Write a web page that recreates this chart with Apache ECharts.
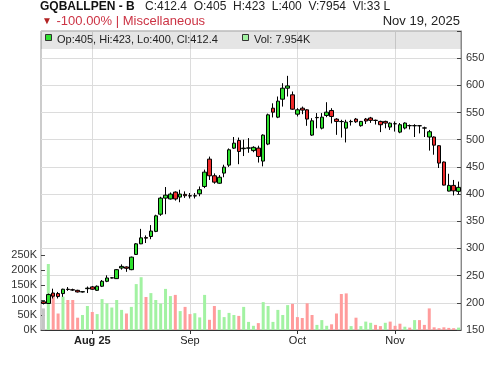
<!DOCTYPE html>
<html>
<head>
<meta charset="utf-8">
<script src="https://cdn.jsdelivr.net/npm/echarts@6/dist/echarts.min.js"></script>
<style>html,body{margin:0;padding:0;background:#fff}#c{width:500px;height:366px}</style>
</head>
<body>
<div id="c"></div>
<script>
const symbolTitle = 'GQBALLPEN - B';
const quoteLine = 'C:412.4  O:405  H:423  L:400  V:7954  Vl:33 L';
const changeText = '-100.00% | Miscellaneous';
const dateText = 'Nov 19, 2025';

const dates = [
 '2025-07-18','2025-07-21','2025-07-22','2025-07-23','2025-07-24','2025-07-25','2025-07-28','2025-07-29','2025-07-30','2025-07-31',
 '2025-08-01','2025-08-04','2025-08-05','2025-08-06','2025-08-07','2025-08-08','2025-08-11','2025-08-12','2025-08-13','2025-08-14',
 '2025-08-18','2025-08-19','2025-08-20','2025-08-21','2025-08-22','2025-08-25','2025-08-26','2025-08-27','2025-08-28','2025-08-29',
 '2025-09-01','2025-09-02','2025-09-03','2025-09-04','2025-09-05','2025-09-08','2025-09-09','2025-09-10','2025-09-11','2025-09-12',
 '2025-09-15','2025-09-16','2025-09-17','2025-09-18','2025-09-19','2025-09-22','2025-09-23','2025-09-24','2025-09-25','2025-09-26',
 '2025-09-29','2025-09-30','2025-10-01','2025-10-03','2025-10-06','2025-10-07','2025-10-08','2025-10-09','2025-10-10','2025-10-13',
 '2025-10-14','2025-10-15','2025-10-16','2025-10-17','2025-10-20','2025-10-23','2025-10-24','2025-10-27','2025-10-28','2025-10-29',
 '2025-10-30','2025-10-31','2025-11-03','2025-11-04','2025-11-05','2025-11-06','2025-11-07','2025-11-10','2025-11-11','2025-11-12',
 '2025-11-13','2025-11-14','2025-11-17','2025-11-18','2025-11-19','2025-11-20'
];
const openP = [
 202,198.8,218,217,217,225,224,223,220,226,
 229.3,223,230.5,239.6,245.7,244.5,264,266,261,289,
 308.5,320,322,331.4,363,392.6,391,403.7,394.5,399.5,
 397,396.5,400.6,414,464.3,433.7,420,438.6,453.3,484.5,
 498.6,483.5,484.5,480,484.6,460.7,492,558,541.5,574.6,
 594.8,582.6,547,558,555,508.5,541,521.3,544.6,553.8,
 537.9,533.6,521.3,533.2,538,525.8,538,540,535.8,533.7,
 533.7,523.3,529.5,514,521.5,526,525.6,525.8,521.8,505,
 505,489,459,405.5,416,405
];
const highP = [
 203,217,226,220,226,229,226,224,221,230,
 231,232,242,250.6,247,262,270.7,267,285,310,
 336,324,343,362,395,413,403,405,408,405,
 402,402,414,445,469,438,435,454,484,505,
 504,500,503,488,489,510,548,567,579.5,604,
 617.5,588.7,558,561,556,539.7,549,549,569,558,
 539.7,536.7,536.7,536.7,540,534.5,540,542,537,535,
 535,532,533.7,530.7,532,528,528.5,527,524,518,
 506,490,460,437.4,426,423
];
const lowP = [
 197,198,208,208,211,222,222,219,219,218,
 224,222,229,238,245,244,261,257,260,288,
 308,310,317,330,360,363,390,388,385,393,
 392,392,396,411,426,419,419,431,450,483,
 455,470,476,477,458,451,490,541,539.7,561,
 579.5,555,542.8,547,525.6,507,521,519,541.5,530,
 509,504,495,526,531,524,529,531,528,514,
 521,518,515,512,519,519,505,511.6,505,480,
 472.4,448,416,405,397.5,400
];
const closeP = [
 198.8,215.2,212.2,211.5,225,224.5,223.5,220,220.5,227,
 225,230.5,239.6,245.7,246,261,267,263.5,284,308.5,
 319.5,319,332,360,392.6,398,400,391,400,397,
 396.5,397,408,440.4,433.7,422,431,449.6,481.5,493.7,
 478.4,484.5,485,486,469.2,508.5,545.8,550.7,571,594.8,
 599,556.2,555,554.5,538,534.8,540.5,541.5,550.7,542.8,
 533.6,533.3,532.3,533.7,533,533.7,534.4,535.6,535.4,527.6,
 530.6,530.4,529.3,527.6,530.7,525.8,526,525.6,521.4,514.7,
 490,457,416.5,416,406,412.4
];
const volume = [
 72000,220000,115000,55000,111000,100000,100000,41000,50000,80000,
 60000,53000,103000,89000,75000,100000,67000,55000,77000,153000,
 176000,110000,123000,100000,88000,137000,113000,117000,63000,77000,
 53000,56000,42000,117000,34000,80000,67000,43000,57000,50000,
 47000,77000,27000,14000,23000,93000,80000,27000,67000,50000,
 83000,87000,43000,40000,89000,50000,17000,33000,14000,19000,
 55000,120000,122000,13000,41000,13000,28000,24000,17000,13000,
 24000,28000,14000,21000,11000,8000,33000,33000,17000,72000,
 9000,6000,9000,7000,6000,7954
];
const priceTicks = [150,200,250,300,350,400,450,500,550,600,650];
const volTicks = [0,50000,100000,150000,200000,250000];

const FONT = '"Liberation Sans", Arial, sans-serif';
const UP = '#2ee02e', DOWN = '#ee2a2a';
const VUP = '#a2f2a2', VDOWN = '#ff9c9c', VFLAT = '#c4c4c4';
const MONTHS = ['Jan','Feb','Mar','Apr','May','Jun','Jul','Aug','Sep','Oct','Nov','Dec'];

const candles = dates.map((d, i) => [openP[i], closeP[i], lowP[i], highP[i]]);
const volData = volume.map((v, i) => ({
  value: v,
  itemStyle: { color: i === 0 ? VFLAT : (closeP[i] >= closeP[i - 1] ? VUP : VDOWN) }
}));
const monthStarts = [];
dates.forEach((d, i) => { if (i > 0 && d.slice(5, 7) !== dates[i - 1].slice(5, 7)) monthStarts.push(i); });
const msSet = new Set(monthStarts);
const firstMS = monthStarts[0];

const last = dates.length - 1;
const legendText = 'Op:' + openP[last] + ', Hi:' + highP[last] + ', Lo:' + lowP[last] + ', Cl:' + closeP[last];
const volText = 'Vol: ' + (volume[last] / 1000).toFixed(3) + 'K';

const chart = echarts.init(document.getElementById('c'), null, { renderer: 'canvas' });
chart.setOption({
  animation: false,
  backgroundColor: '#fff',
  textStyle: { fontFamily: FONT },
  grid: [
    { left: 41, right: 39, top: 31, bottom: 36, show: true, borderColor: '#999', borderWidth: 1, backgroundColor: 'transparent' },
    { left: 41, right: 39, top: 255, bottom: 36 }
  ],
  xAxis: [
    {
      type: 'category', gridIndex: 0, data: dates, boundaryGap: true,
      axisLine: { show: true, lineStyle: { color: '#333', width: 1 } },
      axisTick: { show: true, alignWithLabel: true, length: 4, interval: (i) => msSet.has(i), lineStyle: { color: '#333' } },
      axisLabel: {
        interval: (i) => msSet.has(i), margin: 5, color: '#222', fontSize: 11, fontFamily: FONT,
        formatter: (v, i) => {
          const m = MONTHS[parseInt(v.slice(5, 7), 10) - 1];
          return i === firstMS ? '{b|' + m + ' ' + v.slice(2, 4) + '}' : m;
        },
        rich: { b: { fontWeight: 'bold', fontSize: 11, color: '#222', fontFamily: FONT } }
      },
      splitLine: { show: false }
    },
    {
      type: 'category', gridIndex: 1, data: dates, boundaryGap: true, show: false,
      axisLine: { show: false }, axisTick: { show: false }, axisLabel: { show: false }, splitLine: { show: false }
    }
  ],
  yAxis: [
    {
      type: 'value', gridIndex: 0, position: 'right', min: 150, max: 700, interval: 50,
      axisLine: { show: true, lineStyle: { color: '#888' } },
      axisTick: { show: true, inside: true, length: 4, lineStyle: { color: '#444' } },
      axisLabel: { margin: 5, color: '#333', fontSize: 11, fontFamily: FONT,
        formatter: (v) => priceTicks.indexOf(v) >= 0 ? String(v) : '' },
      splitLine: { show: true, lineStyle: { color: '#dcdcdc', width: 1 } }
    },
    {
      type: 'value', gridIndex: 1, position: 'left', min: 0, max: 250000, interval: 50000,
      axisLine: { show: false },
      axisTick: { show: true, inside: true, length: 4, lineStyle: { color: '#444' } },
      axisLabel: { margin: 4, color: '#333', fontSize: 11, fontFamily: FONT,
        formatter: (v) => volTicks.indexOf(v) >= 0 ? (v / 1000) + 'K' : '' },
      splitLine: { show: false }
    }
  ],
  series: [
    {
      type: 'bar', xAxisIndex: 1, yAxisIndex: 1, data: volData, barWidth: 3, z: 2, silent: true
    },
    {
      type: 'candlestick', xAxisIndex: 0, yAxisIndex: 0, data: candles, barWidth: 4, z: 3, silent: true,
      itemStyle: { color: UP, color0: DOWN, borderColor: '#000', borderColor0: '#000', borderWidth: 1 },
      markLine: {
        silent: true, symbol: 'none', z: 1, animation: false,
        label: { show: false },
        lineStyle: { color: '#dcdcdc', type: 'solid', width: 1 },
        emphasis: { disabled: true },
        data: monthStarts.map(i => ({ xAxis: i }))
      }
    }
  ],
  graphic: [
    { type: 'rect', z: 100, shape: { x: 41, y: 31, width: 420, height: 18 }, style: { fill: 'rgba(0,0,0,0.1)' }, silent: true },
    { type: 'rect', z: 101, shape: { x: 45.5, y: 34.5, width: 6, height: 6 }, style: { fill: UP, stroke: '#333', lineWidth: 1 }, silent: true },
    { type: 'text', z: 101, x: 57, y: 40, style: { text: legendText, font: '11px ' + FONT, fill: '#222', verticalAlign: 'middle' }, silent: true },
    { type: 'rect', z: 101, shape: { x: 242.5, y: 34.5, width: 6, height: 6 }, style: { fill: VUP, stroke: '#333', lineWidth: 1 }, silent: true },
    { type: 'text', z: 101, x: 254, y: 40, style: { text: volText, font: '11px ' + FONT, fill: '#222', verticalAlign: 'middle' }, silent: true },
    { type: 'text', z: 101, x: 40, y: 7, style: { text: symbolTitle, font: 'bold 12px ' + FONT, fill: '#111', verticalAlign: 'middle' }, silent: true },
    { type: 'text', z: 101, x: 145, y: 7, style: { text: quoteLine, font: '12px ' + FONT, fill: '#222', verticalAlign: 'middle' }, silent: true },
    { type: 'text', z: 101, x: 42, y: 21, style: { text: '▼', font: '10px ' + FONT, fill: '#b22222', verticalAlign: 'middle' }, silent: true },
    { type: 'text', z: 101, x: 56.5, y: 21.5, style: { text: changeText, font: '13px ' + FONT, fill: '#cc3344', verticalAlign: 'middle' }, silent: true },
    { type: 'text', z: 101, x: 460, y: 21.5, style: { text: dateText, font: '13px ' + FONT, fill: '#222', align: 'right', verticalAlign: 'middle' }, silent: true }
  ]
});
</script>
</body>
</html>
